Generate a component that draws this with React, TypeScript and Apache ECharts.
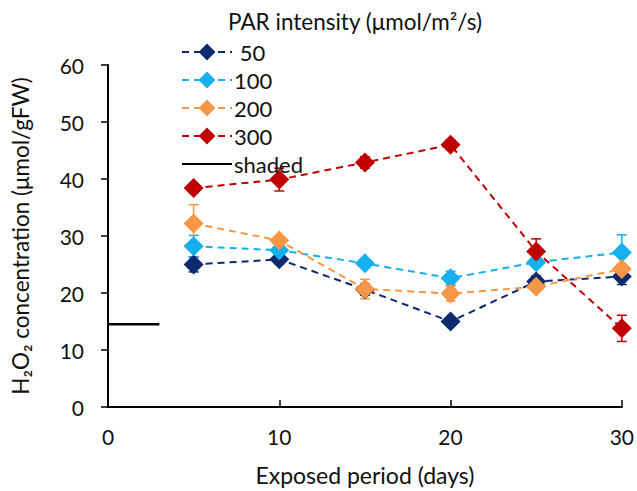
import React, { useEffect, useRef } from 'react';
import * as echarts from 'echarts';

// exposed period (days)
const days = [5, 10, 15, 20, 25, 30];

// H2O2 concentration per PAR intensity, with error bars
const par50 = [25.0, 25.9, 20.6, 15.0, 22.0, 22.9];
const err50 = [1.3, 0.8, 1.0, 0.6, 1.0, 1.4];
const par100 = [28.2, 27.5, 25.2, 22.6, 25.4, 27.1];
const err100 = [1.9, 0.8, 0.5, 1.2, 0.8, 3.1];
const par200 = [32.2, 29.2, 20.7, 19.9, 21.1, 24.2];
const err200 = [3.3, 0.6, 1.7, 1.3, 0.6, 0.8];
const par300 = [38.4, 39.9, 42.9, 46.0, 27.3, 13.8];
const err300 = [0.8, 2.0, 1.0, 0.8, 2.2, 2.3];

// shaded control level
const shadedX = [0, 3];
const shadedY = [14.5, 14.5];

const FONT = 'Lato';
const INK = '#111';

const seriesDefs = [
  { name: ' 50', values: par50, errors: err50, color: '#0e2a6e' },
  { name: '100', values: par100, errors: err100, color: '#16aff0' },
  { name: '200', values: par200, errors: err200, color: '#f79646' },
  { name: '300', values: par300, errors: err300, color: '#c00000' },
];

const App: React.FC = () => {
  const chartRef = useRef<HTMLDivElement>(null);

  useEffect(() => {
    if (!chartRef.current) return;
    const chart = echarts.init(chartRef.current, undefined, { renderer: 'svg' });

    const errorSeries = seriesDefs.map((s) => ({
      name: s.name + ' err',
      type: 'custom',
      data: days.map((d, i) => [d, s.values[i], s.errors[i]]),
      encode: { x: 0, y: 1 },
      z: 1,
      renderItem: (params: any, api: any) => {
        const x = api.value(0);
        const y = api.value(1);
        const e = api.value(2);
        const top = api.coord([x, y + e]);
        const bot = api.coord([x, y - e]);
        const cap = 5;
        const style = { stroke: s.color, lineWidth: 1.5 };
        return {
          type: 'group',
          children: [
            { type: 'line', shape: { x1: top[0], y1: top[1], x2: bot[0], y2: bot[1] }, style },
            { type: 'line', shape: { x1: top[0] - cap, y1: top[1], x2: top[0] + cap, y2: top[1] }, style },
            { type: 'line', shape: { x1: bot[0] - cap, y1: bot[1], x2: bot[0] + cap, y2: bot[1] }, style },
          ],
        };
      },
    }));

    const lineSeries = seriesDefs.map((s) => ({
      name: s.name,
      type: 'line',
      data: days.map((d, i) => [d, s.values[i]]),
      symbol: 'diamond',
      symbolSize: 20,
      z: 3,
      itemStyle: { color: s.color },
      lineStyle: { color: s.color, width: 2, type: [7, 5] },
    }));

    const option: any = {
      animation: false,
      textStyle: { fontFamily: FONT },
      title: {
        text: 'PAR intensity (μmol/m²/s)',
        left: 223,
        top: 5,
        textStyle: { fontFamily: FONT, fontSize: 22.5, fontWeight: 'normal', color: INK },
      },
      legend: {
        orient: 'vertical',
        left: 176,
        top: 36,
        itemWidth: 50,
        itemHeight: 21,
        itemGap: 6,
        textStyle: { fontFamily: FONT, fontSize: 22, color: INK, padding: [0, 0, 0, -3] },
        data: [...seriesDefs.map((s) => s.name), 'shaded'],
      },
      grid: { left: 108, right: 11, top: 65, bottom: 79 },
      xAxis: {
        type: 'value',
        min: 0,
        max: 30,
        interval: 10,
        name: 'Exposed period (days)',
        nameLocation: 'middle',
        nameGap: 56,
        nameTextStyle: { fontFamily: FONT, fontSize: 23, color: INK },
        axisLine: { lineStyle: { color: '#000', width: 2 } },
        axisTick: { inside: true, length: 7, lineStyle: { color: '#000', width: 1.5 } },
        axisLabel: { fontFamily: FONT, fontSize: 21, color: INK, margin: 19 },
        splitLine: { show: false },
      },
      yAxis: {
        type: 'value',
        min: 0,
        max: 60,
        interval: 10,
        name: 'H₂O₂ concentration (μmol/gFW)',
        nameLocation: 'middle',
        nameGap: 76,
        nameTextStyle: { fontFamily: FONT, fontSize: 22.5, color: INK },
        axisLine: { show: true, lineStyle: { color: '#000', width: 2 } },
        axisTick: { show: true, inside: false, length: 7, lineStyle: { color: '#000', width: 1.5 } },
        axisLabel: { fontFamily: FONT, fontSize: 21, color: INK, margin: 24 },
        splitLine: { show: false },
      },
      series: [
        ...errorSeries,
        ...lineSeries,
        {
          name: 'shaded',
          type: 'line',
          data: shadedX.map((x, i) => [x, shadedY[i]]),
          symbol: 'none',
          z: 3,
          itemStyle: { color: 'rgba(0,0,0,0)' },
          lineStyle: { color: '#000', width: 2.5, type: 'solid' },
        },
      ],
    };

    chart.setOption(option);
    return () => {
      chart.dispose();
    };
  }, []);

  return (
    <div
      ref={chartRef}
      style={{ position: 'fixed', left: 0, top: 0, width: '637px', height: '491px', background: '#fff' }}
    ></div>
  );
};

export default App;
